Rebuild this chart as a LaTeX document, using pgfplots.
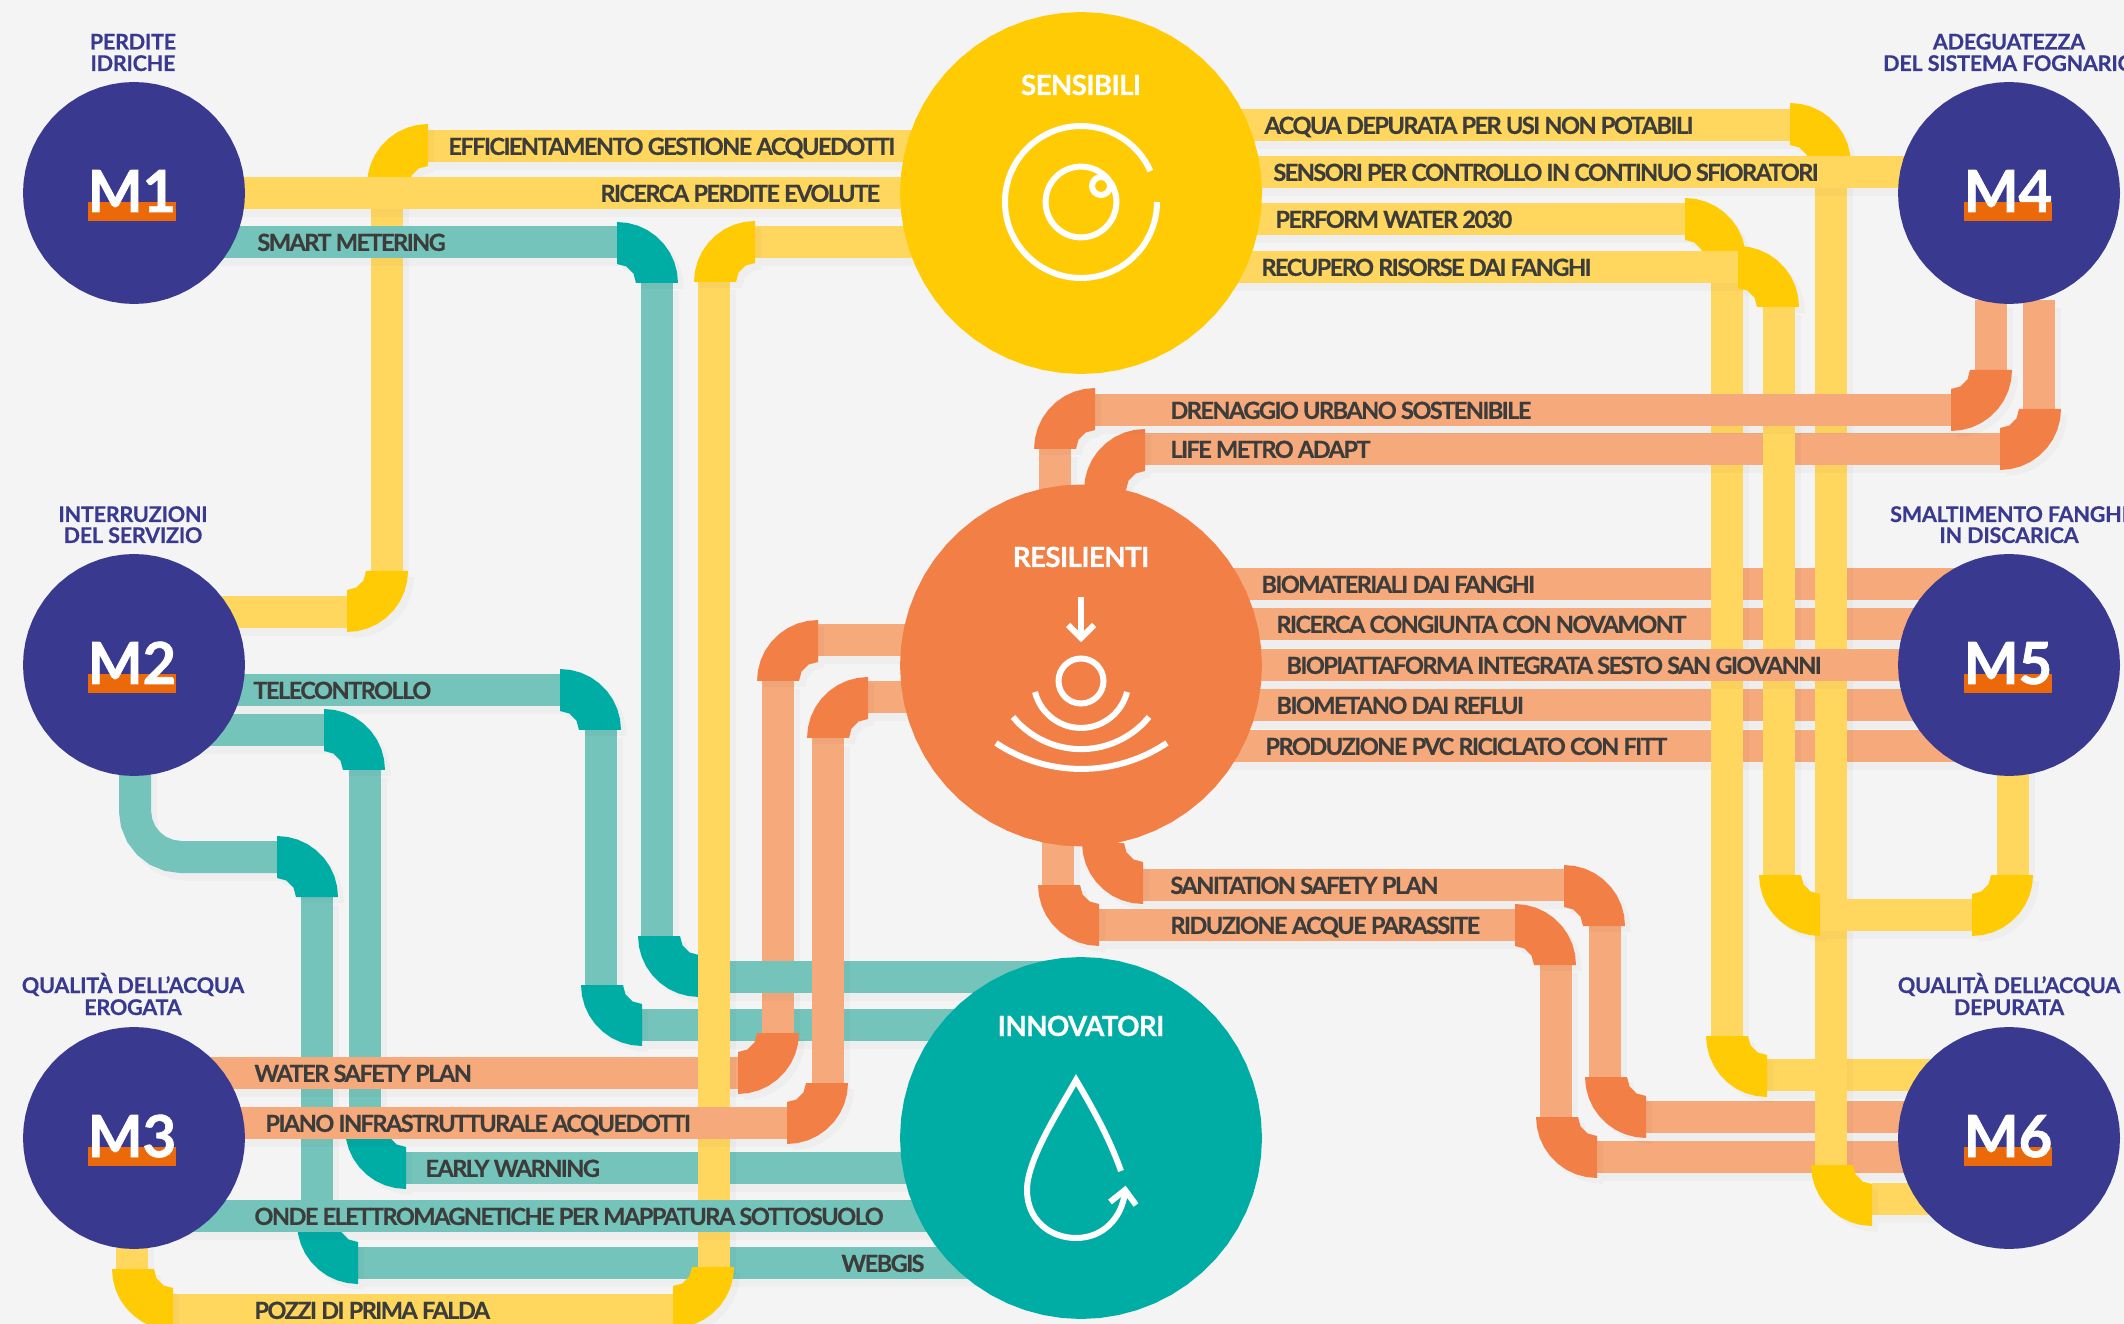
\documentclass[border=0pt]{standalone}
\usepackage{fontspec}
\setmainfont{Lato}
\newfontfamily\labf{Lato}[LetterSpace=-6.7,BoldFeatures={FakeBold=0.4}]
\newfontfamily\ttlf{Lato}[LetterSpace=-1.2,BoldFeatures={FakeBold=0.4}]
\newfontfamily\bigf{Lato}[LetterSpace=-2.4,BoldFeatures={FakeBold=0.6}]
\newfontfamily\mmf{Lato}[BoldFeatures={FakeBold=1.2}]
\usepackage{pgfplots}
\usepackage{pgfplotstable}
\pgfplotsset{compat=1.18}

\definecolor{bg}{HTML}{F4F4F4}
\definecolor{yelL}{HTML}{FFD75F}
\definecolor{yelD}{HTML}{FFCB05}
\definecolor{oraL}{HTML}{F6A97B}
\definecolor{oraD}{HTML}{F28046}
\definecolor{teaL}{HTML}{74C4BC}
\definecolor{teaD}{HTML}{00ADA5}
\definecolor{navy}{HTML}{393A8F}
\definecolor{barc}{HTML}{EB6909}
\definecolor{txt}{HTML}{3C3C3B}

% outline of one pipe elbow, relative to its pivot
\pgfplotstableread{
a b
61 0
60.07 10.59
57.32 20.86
52.83 30.5
46.73 39.21
39.21 46.73
30.5 52.83
20.86 57.32
10.59 60.07
0 61
0 19
9.5 16.45
16.45 9.5
19 0
}\elbowshape

% outline of a circle of radius 1
\pgfplotstableread{
c s
1 0
.9945 .1045
.9781 .2079
.9511 .3090
.9135 .4067
.8660 .5
.8090 .5878
.7431 .6691
.6691 .7431
.5878 .8090
.5 .8660
.4067 .9135
.3090 .9511
.2079 .9781
.1045 .9945
0 1
-.1045 .9945
-.2079 .9781
-.3090 .9511
-.4067 .9135
-.5 .8660
-.5878 .8090
-.6691 .7431
-.7431 .6691
-.8090 .5878
-.8660 .5
-.9135 .4067
-.9511 .3090
-.9781 .2079
-.9945 .1045
-1 0
-.9945 -.1045
-.9781 -.2079
-.9511 -.3090
-.9135 -.4067
-.8660 -.5
-.8090 -.5878
-.7431 -.6691
-.6691 -.7431
-.5878 -.8090
-.5 -.8660
-.4067 -.9135
-.3090 -.9511
-.2079 -.9781
-.1045 -.9945
0 -1
.1045 -.9945
.2079 -.9781
.3090 -.9511
.4067 -.9135
.5 -.8660
.5878 -.8090
.6691 -.7431
.7431 -.6691
.8090 -.5878
.8660 -.5
.9135 -.4067
.9511 -.3090
.9781 -.2079
.9945 -.1045
}\circleshape

\newcommand\pipe[2]{%
  \addplot[black,opacity=.025,line width=16pt,xshift=3pt,yshift=-4pt,no markers] coordinates {#2};
  \addplot[#1,line width=16pt,no markers] coordinates {#2};
}
\newcommand\elbow[5]{%
  \addplot[fill=black,fill opacity=.025,draw=none,no markers,xshift=3pt,yshift=-3pt]
    table[x expr={#2+(#4)*\thisrow{a}},y expr={#3+(#5)*\thisrow{b}}] {\elbowshape};
  \addplot[fill=#1,draw=none,no markers]
    table[x expr={#2+(#4)*\thisrow{a}},y expr={#3+(#5)*\thisrow{b}}] {\elbowshape};
}
\newcommand\disc[4]{% colour, x, y, radius
  \addplot[fill=#1,draw=none,no markers]
    table[x expr={#2+#4*\thisrow{c}},y expr={#3+#4*\thisrow{s}}] {\circleshape};
}
\newcommand\badge[2]{% x, y of the circle
  \pgfmathsetmacro\xa{#1-45}\pgfmathsetmacro\xb{#1+43}\pgfmathsetmacro\ya{#2+9}\pgfmathsetmacro\yb{#2+28}
  \addplot[fill=barc,draw=none,no markers] coordinates {(\xa,\ya) (\xb,\ya) (\xb,\yb) (\xa,\yb)};
}
\newcommand\lab[3]{\node[anchor=base west,inner sep=0pt,text=txt,font=\fontsize{11.8}{14}\labf\bfseries] at (axis cs:#1,#2+8.9) {#3};}
\newcommand\ttl[3]{\node[anchor=base,inner sep=0pt,text=navy,font=\fontsize{10.8}{13}\ttlf\bfseries] at (axis cs:#1,#2) {#3};}
\newcommand\mm[3]{\node[anchor=base,inner sep=0pt,text=white,font=\fontsize{29}{32}\mmf\bfseries] at (axis cs:#1-1,#2+19) {#3};}
\newcommand\bigt[3]{\node[anchor=base,inner sep=0pt,text=white,font=\fontsize{13.9}{16}\bigf\bfseries] at (axis cs:#1,#2) {#3};}

\begin{document}
\begin{tikzpicture}
\begin{axis}[
  scale only axis, width=1062pt, height=662pt,
  xmin=0, xmax=2124, ymin=0, ymax=1324, y dir=reverse,
  hide axis, clip=true
]
\addplot[fill=bg,draw=none,no markers] coordinates {(0,0) (2124,0) (2124,1324) (0,1324)};

% right side, below the yellow
\pipe{oraL}{(1081,584) (2009,584)}
\pipe{oraL}{(1081,624) (2009,624)}
\pipe{oraL}{(1081,705) (2009,705)}
\pipe{oraL}{(1081,746) (2009,746)}
\pipe{oraL}{(1646,1117) (2009,1117)}
\pipe{oraL}{(1597,1157) (2009,1157)}
\pipe{oraL}{(1605,926) (1605,1077)}
\pipe{oraL}{(1556,965) (1556,1117)}
\pipe{oraL}{(1143,885) (1564,885)}
\pipe{oraL}{(1099,925) (1515,925)}
\pipe{oraL}{(1058,820) (1058,885)}
\elbow{oraD}{1646}{1077}{-1}{1}
\elbow{oraD}{1597}{1117}{-1}{1}
\elbow{oraD}{1564}{926}{1}{-1}
\elbow{oraD}{1515}{965}{1}{-1}
\elbow{oraD}{1099}{885}{-1}{1}
\elbow{oraD}{1143}{843}{-1}{1}

% yellow, right
\pipe{yelL}{(1081,219) (1685,219)}
\elbow{yelD}{1685}{259}{1}{-1}
\pipe{yelL}{(1727,259) (1727,1036)}
\pipe{yelL}{(1767,1075) (2009,1075)}
\elbow{yelD}{1767}{1036}{-1}{1}
\pipe{yelL}{(1081,125) (1790,125)}
\elbow{yelD}{1790}{164}{1}{-1}
\pipe{yelL}{(1872,1199) (2009,1199)}
\pipe{yelL}{(1831,164) (1831,1165)}
\elbow{yelD}{1872}{1165}{-1}{1}

% life metro runs between the yellow verticals
\pipe{oraL}{(1145,449) (2000,449)}
\pipe{oraL}{(2039,300) (2039,409)}
\elbow{oraD}{2000}{409}{1}{1}
\elbow{oraD}{1145}{490}{-1}{-1}

\pipe{yelL}{(1081,267) (1738,267)}
\elbow{yelD}{1738}{307}{1}{-1}
\pipe{yelL}{(1779,307) (1779,875)}
\elbow{yelD}{1820}{875}{-1}{1}
\pipe{yelL}{(1820,915) (1972,915)}
\pipe{yelL}{(2013,700) (2013,875)}
\elbow{yelD}{1972}{875}{1}{1}
\pipe{yelL}{(1081,172) (2009,172)}

\pipe{oraL}{(1095,410) (1951,410)}
\pipe{oraL}{(1991,300) (1991,370)}
\elbow{oraD}{1951}{370}{1}{1}
\pipe{oraL}{(1055,449) (1055,560)}
\elbow{oraD}{1095}{449}{-1}{-1}
\pipe{oraL}{(1081,665) (2009,665)}

% yellow, top left
\pipe{yelL}{(387,185) (387,571)}
\pipe{yelL}{(133,612) (347,612)}
\elbow{yelD}{347}{571}{1}{1}
\pipe{yelL}{(428,146) (1081,146)}
\elbow{yelD}{428}{185}{-1}{-1}
\pipe{yelL}{(133,193) (1081,193)}

% teal
\pipe{teaL}{(133,242) (617,242)}
\pipe{teaL}{(657,283) (657,936)}
\elbow{teaD}{617}{283}{1}{-1}
\elbow{teaD}{699}{936}{-1}{1}
\pipe{teaL}{(133,690) (560,690)}
\pipe{teaL}{(601,730) (601,985)}
\elbow{teaD}{560}{730}{1}{-1}
\pipe{teaL}{(642,1025) (1081,1025)}
\elbow{teaD}{642}{985}{-1}{1}
\pipe{teaL}{(133,730) (324,730)}
\pipe{teaL}{(365,770) (365,1128)}
\elbow{teaD}{324}{770}{1}{-1}
\pipe{teaL}{(406,1168) (1081,1168)}
\elbow{teaD}{406}{1128}{-1}{1}
\pipe{teaL}{(135,760) (135,811) (136.6,822.9) (141.2,834) (148.5,843.5) (158,850.8) (169.1,855.4) (181,857) (277,857)}
\pipe{teaL}{(317,897) (317,1223)}
\elbow{teaD}{277}{897}{1}{-1}
\pipe{teaL}{(358,1263) (1081,1263)}
\elbow{teaD}{358}{1223}{-1}{1}

% orange, centre left
\pipe{oraL}{(778,681) (778,1033)}
\pipe{teaL}{(699,977) (1081,977)}
\pipe{oraL}{(818,640) (1081,640)}
\elbow{oraD}{818}{681}{-1}{-1}
\pipe{oraL}{(868,697) (1081,697)}
\pipe{oraL}{(828,738) (828,1083)}
\elbow{oraD}{868}{738}{-1}{-1}
\pipe{oraL}{(133,1073) (738,1073)}
\elbow{oraD}{738}{1033}{1}{1}

% yellow, long vertical
\pipe{yelL}{(755,242) (1081,242)}
\pipe{yelL}{(714,282) (714,1267)}
\elbow{yelD}{755}{282}{-1}{-1}
\pipe{yelL}{(132,1240) (132,1269)}
\pipe{yelL}{(173,1310) (673,1310)}
\elbow{yelD}{173}{1269}{-1}{1}
\elbow{yelD}{673}{1267}{1}{1}

% on top of the yellow
\pipe{oraL}{(133,1123) (787,1123)}
\elbow{oraD}{787}{1083}{1}{1}
\pipe{teaL}{(133,1216) (1081,1216)}

% circles
\disc{yelD}{1081}{193}{181}
\disc{oraD}{1081}{665.5}{181}
\disc{teaD}{1081}{1138}{181}
\disc{navy}{134}{193}{111}
\disc{navy}{134}{665}{111}
\disc{navy}{134}{1138}{111}
\disc{navy}{2009}{193}{111}
\disc{navy}{2009}{665}{111}
\disc{navy}{2009}{1138}{111}
\badge{133}{193}
\badge{133}{665}
\badge{133}{1138}
\badge{2009}{193}
\badge{2009}{665}
\badge{2009}{1138}

% icons
\draw[white,line width=3pt] (axis cs:1157,202) arc[start angle=0,end angle=-336,radius=38pt];
\draw[white,line width=3pt] (axis cs:1081,202) circle[radius=17.7pt];
\draw[white,line width=3pt,fill=yelD] (axis cs:1101,186) circle[radius=4.5pt];

\draw[white,line width=3pt] (axis cs:1081,597) -- (axis cs:1081,636);
\draw[white,line width=3pt] (axis cs:1068,625) -- (axis cs:1081,638) -- (axis cs:1094,625);
\draw[white,line width=3pt] (axis cs:1081,681) circle[radius=11.25pt];
\draw[white,line width=3pt] (axis cs:1035,692) arc[start angle=194,end angle=346,radius=23.7pt];
\draw[white,line width=3pt] (axis cs:1013,717) arc[start angle=219.4,end angle=320.6,radius=44pt];
\draw[white,line width=3pt] (axis cs:996,743) arc[start angle=236.2,end angle=303.8,radius=76.8pt];

\draw[white,line width=3pt] (axis cs:1121,1171) .. controls (axis cs:1110,1140) and (axis cs:1095,1112) .. (axis cs:1076,1080)
  .. controls (axis cs:1058,1112) and (axis cs:1027,1160) .. (axis cs:1027,1190)
  .. controls (axis cs:1027,1220) and (axis cs:1050,1238) .. (axis cs:1076,1238)
  .. controls (axis cs:1103,1238) and (axis cs:1122,1218) .. (axis cs:1125,1192);
\draw[white,line width=3pt] (axis cs:1110,1202) -- (axis cs:1125,1190) -- (axis cs:1136,1205);

% texts
\bigt{1081}{95}{SENSIBILI}
\bigt{1081}{567}{RESILIENTI}
\bigt{1081}{1036}{INNOVATORI}

\mm{133}{193}{M1}
\mm{133}{665}{M2}
\mm{133}{1138}{M3}
\mm{2009}{193}{M4}
\mm{2009}{665}{M5}
\mm{2009}{1138}{M6}

\ttl{133}{49.5}{PERDITE}
\ttl{133}{71}{IDRICHE}
\ttl{133}{522}{INTERRUZIONI}
\ttl{133}{543}{DEL SERVIZIO}
\ttl{133}{993}{QUALITÀ DELL’ACQUA}
\ttl{133}{1015}{EROGATA}
\ttl{2009}{49.5}{ADEGUATEZZA}
\ttl{2009}{71}{DEL SISTEMA FOGNARIO}
\ttl{2009}{522}{SMALTIMENTO FANGHI}
\ttl{2009}{543}{IN DISCARICA}
\ttl{2009}{993}{QUALITÀ DELL’ACQUA}
\ttl{2009}{1015}{DEPURATA}

\lab{448}{146}{EFFICIENTAMENTO GESTIONE ACQUEDOTTI}
\lab{600}{193}{RICERCA PERDITE EVOLUTE}
\lab{257}{242}{SMART METERING}
\lab{253}{690}{TELECONTROLLO}
\lab{254}{1073}{WATER SAFETY PLAN}
\lab{265}{1123}{PIANO INFRASTRUTTURALE ACQUEDOTTI}
\lab{425}{1168}{EARLY WARNING}
\lab{254}{1216}{ONDE ELETTROMAGNETICHE PER MAPPATURA SOTTOSUOLO}
\lab{254}{1310}{POZZI DI PRIMA FALDA}
\lab{841}{1263}{WEBGIS}
\lab{1264}{125}{ACQUA DEPURATA PER USI NON POTABILI}
\lab{1273}{172}{SENSORI PER CONTROLLO IN CONTINUO SFIORATORI}
\lab{1275}{219}{PERFORM WATER 2030}
\lab{1261}{267}{RECUPERO RISORSE DAI FANGHI}
\lab{1170}{410}{DRENAGGIO URBANO SOSTENIBILE}
\lab{1170}{449}{LIFE METRO ADAPT}
\lab{1261}{584}{BIOMATERIALI DAI FANGHI}
\lab{1276}{624}{RICERCA CONGIUNTA CON NOVAMONT}
\lab{1286}{665}{BIOPIATTAFORMA INTEGRATA SESTO SAN GIOVANNI}
\lab{1276}{705}{BIOMETANO DAI REFLUI}
\lab{1265}{746}{PRODUZIONE PVC RICICLATO CON FITT}
\lab{1170}{885}{SANITATION SAFETY PLAN}
\lab{1170}{925}{RIDUZIONE ACQUE PARASSITE}
\end{axis}
\end{tikzpicture}
\end{document}
